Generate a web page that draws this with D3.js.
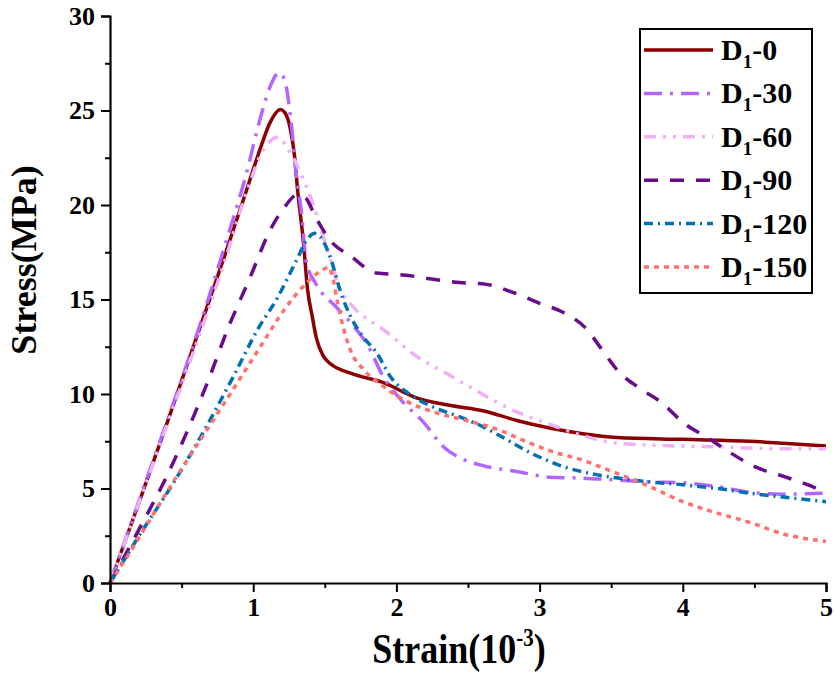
<!DOCTYPE html>
<html><head><meta charset="utf-8">
<script src="https://cdn.jsdelivr.net/npm/d3@7"></script>
<style>body{margin:0;background:#fff}text{font-family:"Liberation Serif","Times New Roman",serif;font-weight:bold;}</style>
</head><body>
<svg id="c" width="836" height="682"></svg>
<script>
// ---- data ----
const xTicks = [0, 1, 2, 3, 4, 5];
const yTicks = [0, 5, 10, 15, 20, 25, 30];
const seriesLabels = ["0", "30", "60", "90", "120", "150"];

const d1_0 = [[0,0],[0.2,4.2],[0.4,8.5],[0.6,12.9],[0.8,17.3],[0.95,20.7],[1.05,23.0],[1.12,24.4],[1.19,25.05],[1.22,24.9],[1.26,24.0],[1.29,22.5],[1.31,20.8],[1.35,18.1],[1.38,15.5],[1.41,14.2],[1.44,13.0],[1.49,12.0],[1.54,11.6],[1.68,11.1],[1.91,10.6],[2.14,9.8],[2.37,9.4],[2.61,9.1],[2.84,8.6],[3.07,8.2],[3.3,7.9],[3.54,7.7],[4.0,7.6],[4.47,7.5],[4.7,7.4],[5.0,7.25]];
const d1_30 = [[0,0],[0.2,4.3],[0.4,8.6],[0.6,13.0],[0.8,17.8],[0.95,21.6],[1.05,24.6],[1.12,26.3],[1.18,27.0],[1.22,26.6],[1.26,24.7],[1.30,21.7],[1.34,19.4],[1.37,17.0],[1.44,15.8],[1.58,14.6],[1.7,13.6],[1.79,12.7],[1.91,10.9],[2.03,9.7],[2.19,8.5],[2.33,7.2],[2.45,6.6],[2.61,6.2],[2.84,5.9],[3.07,5.6],[3.3,5.55],[3.54,5.45],[3.77,5.35],[4.0,5.3],[4.24,5.1],[4.47,4.8],[4.7,4.7],[5.0,4.75]];
const d1_60 = [[0,0],[0.2,4.2],[0.4,8.4],[0.6,12.6],[0.8,17.0],[0.95,20.6],[1.07,22.9],[1.18,23.6],[1.23,23.1],[1.30,22.2],[1.37,21.0],[1.42,20.0],[1.47,18.8],[1.54,17.1],[1.61,15.5],[1.70,14.6],[1.91,13.4],[2.14,12.0],[2.37,11.0],[2.61,9.95],[2.84,9.05],[3.07,8.4],[3.3,7.8],[3.54,7.4],[3.77,7.3],[4.24,7.2],[4.7,7.1],[5.0,7.1]];
const d1_90 = [[0,0],[0.2,2.8],[0.38,5.4],[0.68,10.6],[0.82,13.4],[0.98,16.2],[1.12,18.7],[1.22,19.9],[1.3,20.5],[1.36,20.4],[1.44,19.3],[1.54,18.1],[1.68,17.3],[1.86,16.4],[2.05,16.3],[2.23,16.1],[2.44,15.9],[2.63,15.8],[2.84,15.3],[3.0,14.8],[3.17,14.3],[3.32,13.5],[3.44,12.3],[3.55,11.2],[3.70,10.3],[3.86,9.5],[4.0,8.5],[4.17,7.7],[4.33,6.9],[4.52,6.1],[4.68,5.7],[4.87,5.2],[5.0,4.8]];
const d1_120 = [[0,0],[0.17,2.1],[0.5,6.0],[0.86,10.9],[1.03,13.4],[1.17,15.1],[1.31,17.2],[1.37,18.1],[1.43,18.5],[1.47,18.3],[1.54,17.2],[1.61,15.4],[1.68,14.1],[1.77,13.0],[1.86,12.2],[1.96,10.9],[2.09,10.0],[2.26,9.3],[2.44,8.8],[2.61,8.25],[2.72,7.8],[2.96,6.8],[3.19,6.1],[3.42,5.7],[3.77,5.35],[4.0,5.2],[4.24,5.0],[4.47,4.75],[4.7,4.55],[5.0,4.3]];
const d1_150 = [[0,0],[0.17,2.0],[0.38,4.6],[0.89,10.6],[1.05,12.5],[1.23,14.6],[1.35,15.7],[1.47,16.5],[1.53,16.7],[1.56,16.0],[1.59,14.8],[1.63,13.5],[1.68,12.3],[1.77,11.3],[1.91,10.4],[2.05,9.7],[2.28,9.0],[2.49,8.6],[2.75,8.0],[2.84,7.7],[3.07,7.0],[3.3,6.5],[3.54,5.8],[3.77,5.1],[4.0,4.3],[4.24,3.7],[4.47,3.2],[4.7,2.6],[5.0,2.2]];

const seriesData = [d1_0, d1_30, d1_60, d1_90, d1_120, d1_150];
const colors = ["#8b0000", "#b366ff", "#f0b0f5", "#6a0a8c", "#0070b4", "#ff7070"];
const dashes = [null, "18,8,3,8", "12,7,3,7,3,7", "14,12", "9,5,2,5", "5,5"];

// ---- chart ----
const svg = d3.select("#c");
const x = d3.scaleLinear().domain([0, 5]).range([110, 826]);
const y = d3.scaleLinear().domain([0, 30]).range([583, 16]);

const line = d3.line().x(d => x(d[0])).y(d => y(d[1])).curve(d3.curveMonotoneX);

const g = svg.append("g");
seriesData.forEach((s, i) => {
  g.append("path").datum(s).attr("d", line)
    .attr("fill", "none").attr("stroke", colors[i]).attr("stroke-width", 3.5)
    .attr("stroke-dasharray", dashes[i]);
});

// axes
const xAxis = svg.append("g").attr("transform", `translate(0,${y(0)})`)
  .call(d3.axisBottom(x).tickValues(xTicks).tickFormat(d3.format("d")).tickSizeOuter(0).tickSize(9).tickPadding(6));
const xMinor = svg.append("g").attr("transform", `translate(0,${y(0)})`)
  .call(d3.axisBottom(x).tickValues(d3.range(0.5, 5, 1)).tickFormat("").tickSizeOuter(0).tickSize(5));
const yAxis = svg.append("g").attr("transform", `translate(${x(0)},0)`)
  .call(d3.axisLeft(y).tickValues(yTicks).tickFormat(d3.format("d")).tickSizeOuter(0).tickSize(9).tickPadding(6));
const yMinor = svg.append("g").attr("transform", `translate(${x(0)},0)`)
  .call(d3.axisLeft(y).tickValues(d3.range(2.5, 30, 5)).tickFormat("").tickSizeOuter(0).tickSize(5));

[xAxis, xMinor, yAxis, yMinor].forEach(a => {
  a.select(".domain").attr("stroke", "#000").attr("stroke-width", 2.2);
  a.selectAll(".tick line").attr("stroke", "#000").attr("stroke-width", 2);
});
xMinor.select(".domain").remove(); yMinor.select(".domain").remove();
[xAxis, yAxis].forEach(a => a.selectAll(".tick text").attr("font-size", 26).attr("fill", "#000")
  .attr("font-family", "'Liberation Serif',serif").attr("font-weight", "bold"));

// axis titles
const xt = svg.append("text").attr("transform", "translate(459,663) scale(1,1.15)").attr("text-anchor", "middle")
  .attr("font-size", 36);
xt.append("tspan").text("Strain(10");
xt.append("tspan").text("-3").attr("font-size", 21).attr("dy", -15);
xt.append("tspan").text(")").attr("dy", 15);

svg.append("text").attr("transform", "translate(36,260) rotate(-90)").attr("text-anchor", "middle")
  .attr("font-size", 36).text("Stress(MPa)");

// legend
const lg = svg.append("g");
lg.append("rect").attr("x", 640).attr("y", 29).attr("width", 172).attr("height", 264)
  .attr("fill", "#fff").attr("stroke", "#000").attr("stroke-width", 2);
seriesLabels.forEach((lab, i) => {
  const yy = 50 + i * 43.4;
  lg.append("line").attr("x1", 644).attr("x2", 713).attr("y1", yy).attr("y2", yy)
    .attr("stroke", colors[i]).attr("stroke-width", 3.5).attr("stroke-dasharray", dashes[i]);
  const t = lg.append("text").attr("x", 721).attr("y", yy + 10).attr("font-size", 30);
  t.append("tspan").text("D");
  t.append("tspan").text("1").attr("font-size", 19).attr("dy", 8);
  t.append("tspan").text("-" + lab).attr("dy", -8);
});
</script>
</body></html>
